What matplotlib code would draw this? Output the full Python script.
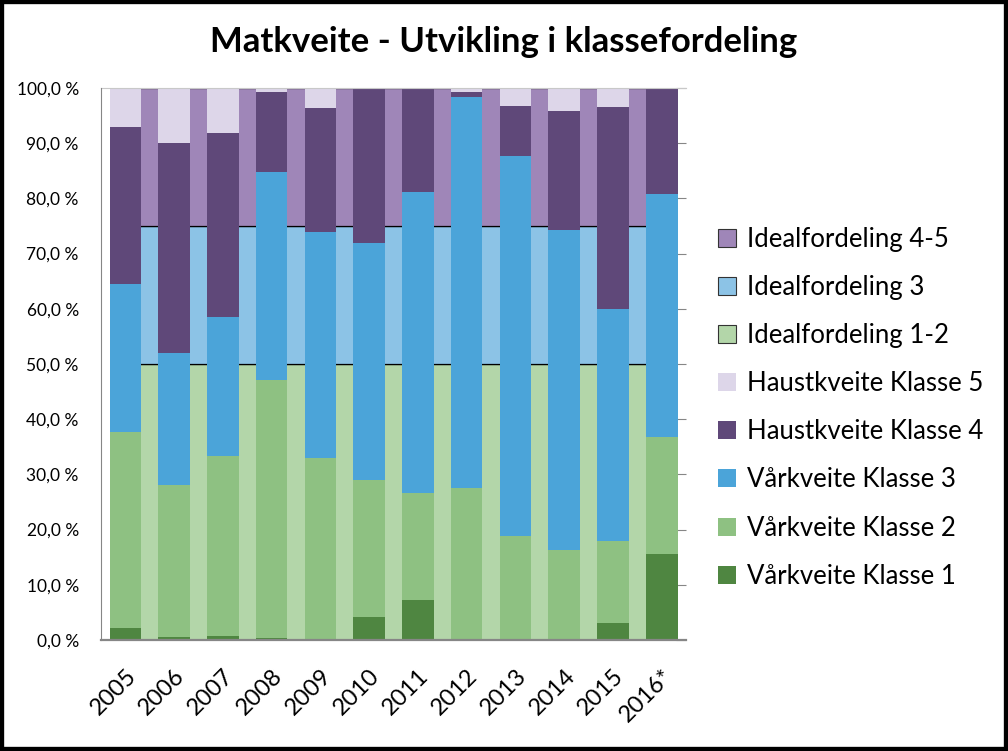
"""Matkveite - utvikling i klassefordeling, stacked bars over ideal distribution."""

import matplotlib

matplotlib.use("Agg")

import matplotlib.pyplot as plt
import numpy as np
from matplotlib.patches import Patch, Rectangle

plt.rcParams["font.family"] = ["Lato", "DejaVu Sans"]

years = ["2005", "2006", "2007", "2008", "2009", "2010",
         "2011", "2012", "2013", "2014", "2015", "2016*"]

# share of catch per class, percent
vaar_k1 = [2.2, 0.5, 0.8, 0.4, 0.2, 4.2, 7.3, 0.0, 0.0, 0.0, 3.1, 15.6]
vaar_k2 = [35.5, 27.6, 32.5, 46.7, 32.8, 24.7, 19.4, 27.6, 18.9, 16.3, 14.9, 21.1]
vaar_k3 = [26.8, 23.9, 25.3, 37.6, 41.0, 43.1, 54.5, 70.7, 68.7, 58.0, 41.9, 44.1]
haust_k4 = [28.5, 38.1, 33.3, 14.5, 22.3, 27.8, 18.6, 1.0, 9.2, 21.5, 36.7, 19.2]
haust_k5 = [7.0, 9.9, 8.1, 0.8, 3.7, 0.2, 0.2, 0.7, 3.2, 4.2, 3.4, 0.0]

# ideal distribution, drawn between the years
ideal_labels = ["Idealfordeling 1-2", "Idealfordeling 3", "Idealfordeling 4-5"]
ideal_values = [50.0, 25.0, 25.0]

data_series = [
    ("Vårkveite Klasse 1", vaar_k1, "#4f8641"),
    ("Vårkveite Klasse 2", vaar_k2, "#8ec182"),
    ("Vårkveite Klasse 3", vaar_k3, "#4ba4d9"),
    ("Haustkveite Klasse 4", haust_k4, "#5f4879"),
    ("Haustkveite Klasse 5", haust_k5, "#ddd6e9"),
]
ideal_colors = ["#b3d6a9", "#8cc3e6", "#9f86b8"]

fig = plt.figure(figsize=(10.08, 7.51), dpi=100)
ax = fig.add_axes([0.1002, 0.1478, 0.5804, 0.7350])

x = np.arange(len(years))
x_ideal = np.arange(len(years) - 1) + 0.5

bottom = np.zeros(len(x_ideal))
for label, value, color in zip(ideal_labels, ideal_values, ideal_colors):
    heights = np.full(len(x_ideal), value)
    ax.bar(x_ideal, heights, width=1.0, bottom=bottom, color=color,
           edgecolor="black", linewidth=0.9, zorder=1)
    bottom += heights

bottom = np.zeros(len(x))
for label, values, color in data_series:
    values = np.array(values)
    ax.bar(x, values, width=0.65, bottom=bottom, color=color, linewidth=0, zorder=2)
    bottom += values

ax.set_xlim(-0.5, len(years) - 0.5)
ax.set_ylim(0, 100)
ax.set_yticks(np.arange(0, 101, 10))
ax.set_yticklabels(["{0:.1f} %".format(v).replace(".", ",") for v in np.arange(0, 101, 10)],
                   fontsize=12.5)
ax.set_xticks(x)
ax.set_xticklabels(years, rotation=45, ha="right", rotation_mode="anchor", fontsize=17)
ax.tick_params(axis="x", length=0, pad=18)
ax.tick_params(axis="y", left=False, right=True, direction="in", length=7,
               color="#868686", pad=16)

for side in ["left", "bottom"]:
    ax.spines[side].set_color("#868686")
    ax.spines[side].set_zorder(3)
ax.spines["bottom"].set_linewidth(1.6)
ax.spines["right"].set_visible(False)
ax.spines["top"].set_color("#c8c8c8")
ax.spines["top"].set_linewidth(0.8)

fig.text(0.5, 0.944, "Matkveite - Utvikling i klassefordeling", ha="center", va="center",
         fontsize=25, fontweight="bold")

handles = []
for label, color in zip(ideal_labels[::-1], ideal_colors[::-1]):
    handles.append(Patch(facecolor=color, edgecolor="#333333", linewidth=0.8, label=label))
for label, values, color in data_series[::-1]:
    handles.append(Patch(facecolor=color, edgecolor="none", label=label))
fig.legend(handles=handles, loc="center left", bbox_to_anchor=(0.712, 0.457),
           frameon=False, fontsize=18.5, handlelength=0.7, handleheight=0.7,
           handletextpad=0.45, labelspacing=0.9, borderpad=0, borderaxespad=0)

fig.patches.append(Rectangle((0, 0), 1, 1, transform=fig.transFigure, fill=False,
                             edgecolor="black", linewidth=6))

fig.savefig("out.png", dpi=100)
plt.close(fig)
